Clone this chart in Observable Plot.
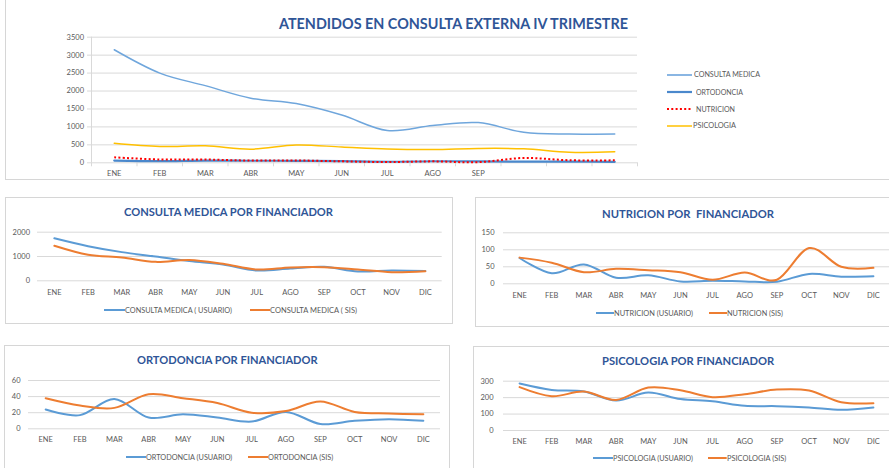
<!DOCTYPE html>
<html>
<head>
<meta charset="utf-8">
<script src="https://cdn.jsdelivr.net/npm/d3@7"></script>
<script src="https://cdn.jsdelivr.net/npm/@observablehq/plot@0.6"></script>
<style>
  html, body { margin: 0; padding: 0; background: #fff; }
  #root { position: relative; width: 889px; height: 468px; overflow: hidden; background: #fff; }
  .card { position: absolute; border: 1px solid #d6d6d6; box-sizing: border-box; background: #fff; }
  .chart { position: absolute; }
</style>
</head>
<body>
<div id="root"></div>
<script>
// ---------- DATA ----------
const months = ["ENE","FEB","MAR","ABR","MAY","JUN","JUL","AGO","SEP","OCT","NOV","DIC"];
const topTickLabels = ["ENE","FEB","MAR","ABR","MAY","JUN","JUL","AGO","SEP"];

const totalConsultaMedica = [3150, 2500, 2150, 1800, 1650, 1330, 900, 1040, 1120, 850, 800, 800];
const totalOrtodoncia     = [62, 46, 63, 57, 56, 46, 29, 43, 40, 31, 31, 28];
const totalNutricion      = [153, 93, 91, 62, 65, 41, 21, 40, 18, 134, 71, 69];
const totalPsicologia     = [545, 455, 473, 380, 495, 440, 385, 370, 400, 390, 295, 305];

const consultaUsuario = [1750, 1425, 1180, 1000, 810, 670, 425, 505, 575, 385, 425, 400];
const consultaSis     = [1440, 1070, 960, 780, 860, 700, 465, 550, 560, 465, 355, 395];
const nutricionUsuario = [76, 31, 57, 18, 25, 7, 9, 7, 6, 29, 21, 22];
const nutricionSis     = [77, 62, 34, 44, 40, 34, 12, 33, 12, 105, 50, 47];
const ortodonciaUsuario = [24, 17, 37, 14, 18, 14, 9, 21, 6, 10, 12, 10];
const ortodonciaSis     = [38, 29, 26, 43, 38, 32, 20, 22, 34, 21, 19, 18];
const psicologiaUsuario = [286, 247, 237, 182, 231, 191, 178, 150, 148, 140, 126, 140];
const psicologiaSis     = [264, 209, 237, 186, 261, 245, 203, 221, 249, 243, 172, 166];

const topYTicks = [0, 500, 1000, 1500, 2000, 2500, 3000, 3500];
const consultaYTicks = [0, 1000, 2000];
const nutricionYTicks = [0, 50, 100, 150];
const ortodonciaYTicks = [0, 20, 40, 60];
const psicologiaYTicks = [0, 100, 200, 300];

// ---------- HELPERS ----------
const root = document.getElementById("root");
const BLUE = "#5B9BD5", ORANGE = "#ED7D31", GRID = "#d9d9d9", TXT = "#595959", TITLE = "#2F5597";
const FONT = "Lato, 'Open Sans', sans-serif";
const num = d => String(d);

function card(left, top, width, height) {
  const d = document.createElement("div");
  d.className = "card";
  Object.assign(d.style, {left: left + "px", top: top + "px", width: width + "px", height: height + "px"});
  root.appendChild(d);
}
function label(txt, x, yc, w, fs, color, weight) {
  const s = document.createElement("div");
  s.textContent = txt;
  s.style.cssText = `position:absolute;white-space:pre;font-family:${FONT};font-size:${fs}px;font-weight:${weight};color:${color};line-height:1;left:${x}px;top:${yc - fs * 0.53}px;transform-origin:0 50%;`;
  root.appendChild(s);
  const mw = s.getBoundingClientRect().width;
  if (w && mw > 0) s.style.transform = `scaleX(${w / mw})`;
}
function swatch(x1, x2, y, color, width, dash) {
  const ns = "http://www.w3.org/2000/svg";
  const svg = document.createElementNS(ns, "svg");
  svg.setAttribute("width", x2 - x1);
  svg.setAttribute("height", 6);
  svg.style.cssText = `position:absolute;left:${x1}px;top:${y - 3}px;overflow:visible`;
  const l = document.createElementNS(ns, "line");
  l.setAttribute("x1", 0); l.setAttribute("x2", x2 - x1);
  l.setAttribute("y1", 3); l.setAttribute("y2", 3);
  l.setAttribute("stroke", color); l.setAttribute("stroke-width", width);
  if (dash) l.setAttribute("stroke-dasharray", dash);
  svg.appendChild(l);
  root.appendChild(svg);
}
function place(el, left, top) {
  el.classList.add("chart");
  el.style.left = left + "px";
  el.style.top = top + "px";
  root.appendChild(el);
}
const idx = months.map((m, i) => i);
const series = (vals) => vals.map((v, i) => ({i, month: months[i], v}));

// ---------- CARDS ----------
card(5, -12, 900, 192);
card(5, 197, 448, 127);
card(475, 197, 430, 130);
card(4, 345, 446, 140);
card(473, 346, 430, 140);

// ---------- TOP CHART ----------
{
  const boundaries = d3.range(months.length + 1).map(k => k - 0.5);
  const chart = Plot.plot({
    width: 889, height: 180,
    marginLeft: 91, marginRight: 252, marginTop: 36.7, marginBottom: 17.7,
    style: {fontFamily: FONT, fontSize: "7.5px", color: TXT, background: "transparent", overflow: "visible"},
    x: {type: "linear", domain: [-0.5, months.length - 0.5], axis: null},
    y: {domain: [0, 3500], axis: null},
    marks: [
      Plot.gridY(topYTicks, {stroke: GRID, strokeOpacity: 1, strokeWidth: 1}),
      Plot.ruleX([-0.5], {stroke: GRID, strokeWidth: 1}),
      Plot.axisY(topYTicks, {tickSize: 4, tickPadding: 3.5, stroke: GRID, fill: TXT, tickFormat: num, label: null}),
      Plot.axisX(boundaries, {tickSize: 4, tickFormat: () => "", stroke: GRID, label: null}),
      Plot.axisX(topTickLabels.map((m, i) => i), {tickSize: 0, tickPadding: 8, tickFormat: i => topTickLabels[i], fill: TXT, label: null}),
      Plot.line(series(totalConsultaMedica), {x: "i", y: "v", stroke: "#6FA6DC", strokeWidth: 1.5, curve: "cardinal"}),
      Plot.line(series(totalOrtodoncia), {x: "i", y: "v", stroke: "#4A88CC", strokeWidth: 2.2, curve: "cardinal"}),
      Plot.line(series(totalPsicologia), {x: "i", y: "v", stroke: "#FFC000", strokeWidth: 1.5, curve: "cardinal"}),
      Plot.line(series(totalNutricion), {x: "i", y: "v", stroke: "#FF0000", strokeWidth: 2, strokeDasharray: "2,2.3", strokeLinecap: "butt", curve: "cardinal"})
    ]
  });
  place(chart, 0, 0);
  label("ATENDIDOS EN CONSULTA EXTERNA IV TRIMESTRE", 279, 25, 349, 14.5, TITLE, 700);
  swatch(667, 692, 75, "#8AB6E3", 2);
  label("CONSULTA MEDICA", 694, 75, 66, 7, TXT, 400);
  swatch(667, 692, 92.3, "#4A88CC", 2.2);
  label("ORTODONCIA", 696, 92.3, 47, 7, TXT, 400);
  swatch(667, 692, 109.3, "#FF0000", 2, "2,2.3");
  label("NUTRICION", 696, 109.3, 39, 7, TXT, 400);
  swatch(667, 692, 126, "#FFC000", 1.5);
  label("PSICOLOGIA", 693, 126, 43, 7, TXT, 400);
}

// ---------- SMALL CHARTS ----------
function smallChart(o) {
  const chart = Plot.plot({
    width: o.width, height: 110,
    marginLeft: o.mL, marginRight: o.mR, marginTop: o.mT, marginBottom: o.mB,
    style: {fontFamily: FONT, fontSize: "7.5px", color: TXT, background: "transparent", overflow: "visible"},
    x: {type: "linear", domain: [-0.5, months.length - 0.5], axis: null},
    y: {domain: [0, o.yMax], axis: null},
    marks: [
      Plot.gridY(o.yTicks, {stroke: GRID, strokeOpacity: 1, strokeWidth: 1}),
      Plot.axisY(o.yTicks, {tickSize: 0, tickPadding: o.yPad, fill: TXT, tickFormat: num, label: null}),
      Plot.axisX(idx, {tickSize: 0, tickPadding: o.xPad, tickFormat: i => months[i], fill: TXT, label: null}),
      Plot.line(series(o.usuario), {x: "i", y: "v", stroke: BLUE, strokeWidth: 2, curve: "cardinal"}),
      Plot.line(series(o.sis), {x: "i", y: "v", stroke: ORANGE, strokeWidth: 2, curve: "cardinal"})
    ]
  });
  place(chart, o.left, o.top);
}

smallChart({left: 0, top: 195, width: 460, mL: 37, mR: 18.3, mT: 36.7, mB: 24.7, yMax: 2000, yTicks: consultaYTicks, yPad: 7.5, xPad: 8.8, usuario: consultaUsuario, sis: consultaSis});
label("CONSULTA MEDICA POR FINANCIADOR", 124, 212.3, 209, 12, TITLE, 700);
swatch(104, 125, 310, BLUE, 2);
label("CONSULTA MEDICA ( USUARIO)", 125, 310, 107, 8, TXT, 400);
swatch(250, 270, 310, ORANGE, 2);
label("CONSULTA MEDICA ( SIS)", 270, 310, 87, 8, TXT, 400);

smallChart({left: 470, top: 195, width: 419, mL: 33, mR: 0, mT: 37.3, mB: 21.7, yMax: 150, yTicks: nutricionYTicks, yPad: 9, xPad: 8.5, usuario: nutricionUsuario, sis: nutricionSis});
label("NUTRICION POR  FINANCIADOR", 602, 214, 172, 12, TITLE, 700);
swatch(596, 614, 313.3, BLUE, 2);
label("NUTRICION (USUARIO)", 614, 313.3, 79, 8, TXT, 400);
swatch(709, 727, 313.3, ORANGE, 2);
label("NUTRICION (SIS)", 727, 313.3, 56, 8, TXT, 400);

smallChart({left: 0, top: 340, width: 460, mL: 28, mR: 20, mT: 40, mB: 21.7, yMax: 60, yTicks: ortodonciaYTicks, yPad: 8, xPad: 7.5, usuario: ortodonciaUsuario, sis: ortodonciaSis});
label("ORTODONCIA POR FINANCIADOR", 136.7, 360.7, 180.6, 12, TITLE, 700);
swatch(125.7, 145.7, 457.3, BLUE, 2);
label("ORTODONCIA (USUARIO)", 145.7, 457.3, 86.3, 8, TXT, 400);
swatch(247.7, 267.7, 457.3, ORANGE, 2);
label("ORTODONCIA (SIS)", 267.7, 457.3, 65.3, 8, TXT, 400);

smallChart({left: 470, top: 340, width: 419, mL: 33, mR: 0, mT: 40.7, mB: 20, yMax: 300, yTicks: psicologiaYTicks, yPad: 10, xPad: 8.5, usuario: psicologiaUsuario, sis: psicologiaSis});
label("PSICOLOGIA POR FINANCIADOR", 601.7, 361.7, 172.3, 12, TITLE, 700);
swatch(592.7, 612.7, 458.3, BLUE, 2);
label("PSICOLOGIA (USUARIO)", 612.7, 458.3, 80, 8, TXT, 400);
swatch(708, 726.7, 458.3, ORANGE, 2);
label("PSICOLOGIA (SIS)", 726.7, 458.3, 59.3, 8, TXT, 400);
</script>
</body>
</html>
